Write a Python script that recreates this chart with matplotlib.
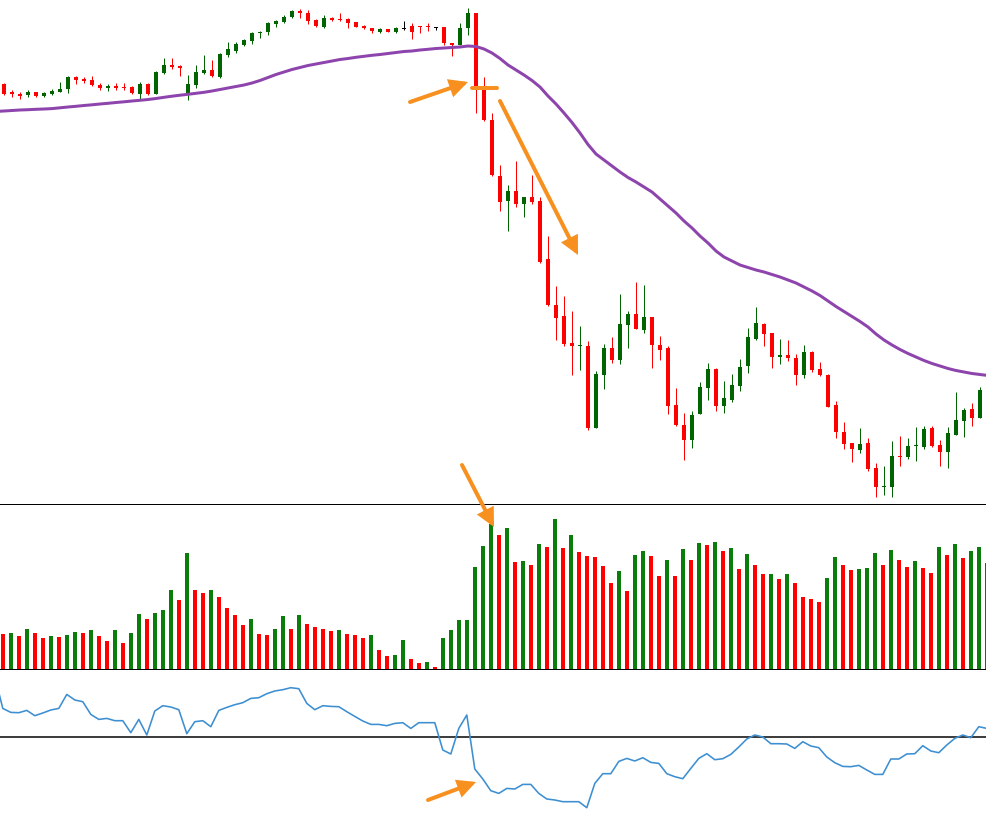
import matplotlib
matplotlib.use("Agg")
import matplotlib.pyplot as plt
import numpy as np

# ---------------- data ----------------
open_ = [416, 408, 406, 405, 408, 404, 406, 408, 411, 423,
         421, 420, 415, 412, 414, 413, 413, 406, 416, 406,
         427, 435, 434, 406, 415, 427, 430, 423, 445, 449,
         455, 459, 467, 468, 476, 478, 483, 489, 487, 480,
         473, 482, 481, 481, 478, 474, 472, 468, 471, 468,
         471.5, 474, 474, 474, 472.5, 473, 457, 455, 472, 487,
         412, 380, 324, 299, 309, 296, 303, 299, 241, 195,
         184, 157, 154, 154, 72, 125, 152, 140, 175, 186,
         170, 183, 155, 152, 95, 75, 60, 86, 112, 131,
         94, 100, 114, 134, 161, 176, 167, 143, 145, 142,
         125, 148, 131, 125, 95, 68, 57, 50, 57, 32,
         13, 13, 44, 43, 54, 53, 72, 55, 48, 65,
         79, 91, 82, 110]
high = [417, 410, 408, 410, 408, 408, 411, 418, 424, 424,
        423, 424, 417, 416, 417, 417, 414, 418, 417, 429,
        442, 442, 435, 425, 435, 445, 440, 447, 458, 458,
        461, 468, 469, 478, 480, 485, 490, 491, 490, 481,
        485, 483, 487, 482, 478, 475, 472, 472, 471, 473,
        479, 477, 474, 477, 473, 473, 457, 477, 492, 487,
        423, 387, 335, 315, 339, 303, 325, 303, 264, 214,
        204, 189, 174, 159, 129, 156, 163, 206, 189, 218,
        215, 183, 164, 154, 112, 87, 89, 118, 137, 132,
        119, 126, 141, 172, 193, 177, 167, 161, 160, 146,
        155, 149, 138, 126, 99, 78, 57, 72, 62, 37,
        34, 59, 64, 62, 73, 74, 74, 60, 73, 108,
        92, 97, 113, 113]
low = [405, 403, 401, 403, 403, 403, 405, 408, 407, 416,
       417, 414, 410, 409, 410, 410, 406, 401, 405, 406,
       426, 431, 424, 400, 412, 426, 423, 422, 443, 447,
       454, 456, 462, 465, 473, 477, 482, 482, 476, 473,
       472, 479, 479, 472, 473, 471, 467, 467, 468, 467,
       470, 461, 467, 469, 470, 455, 444, 455, 465, 387,
       379, 324, 289, 269, 293, 283, 296, 237, 194, 160,
       154, 125, 130, 70, 72, 111, 137, 136, 152, 171,
       167, 132, 140, 86, 74, 40, 52, 86, 100, 89,
       87, 98, 109, 127, 160, 154, 132, 136, 139, 115,
       122, 128, 124, 93, 62, 51, 38, 47, 29, 3,
       5, 3, 34, 41, 39, 51, 53, 34, 32, 65,
       63, 74, 82, 102]
close = [406, 406, 404, 408, 404, 407, 409, 411, 423, 420,
         419, 415, 412, 414, 412, 412, 407, 416, 406, 428,
         435, 433, 432, 416, 428, 430, 424, 446, 451, 456,
         460, 467, 468, 477, 479, 483, 489, 487, 479, 474,
         482, 480, 480, 477, 473, 472, 469, 471, 468, 472,
         471.5, 468, 473, 473, 472.5, 457, 455, 472, 487, 413,
         380, 325, 298, 309, 296, 303, 298, 238, 195, 182,
         156, 154, 155, 72, 126, 152, 140, 176, 186, 171,
         183, 155, 150, 94, 75, 60, 85, 113, 131, 94,
         102, 115, 133, 163, 177, 166, 143, 145, 142, 125,
         148, 130, 125, 93, 68, 56, 51, 56, 31, 13,
         14, 44, 43, 54, 55, 71, 54, 48, 67, 80,
         90, 82, 110, 105]
# moving average: first value belongs to the bar just before the visible range
moving_avg = [388.6,
              389, 389.5, 390, 390.3, 390.7, 391, 391.4, 392.2, 393, 393.7,
              394.5, 395.2, 396, 396.7, 397.5, 398.2, 399, 399.7, 400.5, 401.5,
              402.7, 403.8, 404.8, 405.7, 406.7, 407.7, 409, 410.5, 412, 413.5,
              415, 417, 419.5, 422.5, 425.5, 428, 430.5, 432.5, 434.5, 436,
              437.5, 439, 440.5, 441.5, 442.7, 443.7, 444.7, 445.5, 446.5, 447.5,
              448.5, 449, 450, 450.7, 451.5, 452, 452.5, 453, 454, 453.5,
              451, 447, 441.5, 435, 430, 425, 419.5, 413, 404, 396,
              387, 377.5, 367, 355.5, 346, 340, 334, 328, 322.5, 318,
              313, 308, 301, 294, 287, 279, 272, 264, 257, 249,
              243, 239, 235, 232.5, 230, 228, 225.5, 223, 220, 217,
              213, 209, 204.5, 199, 193.5, 188.5, 183.5, 178.5, 173, 166,
              160, 155, 150.5, 146.5, 143, 139.5, 136.5, 134, 131.5, 129.5,
              128, 126.5, 125.5, 124.5]
volume = [35, 36, 33, 40, 36, 31, 33, 32.5, 34, 37,
          36, 39, 33, 28, 39, 26, 36, 55, 50, 56,
          59, 79, 69, 116, 79, 76, 79, 72, 61, 54,
          44, 50, 35, 34, 40, 53, 40, 54, 45, 42,
          40, 38, 39, 35, 34.5, 31, 34, 19, 13, 14,
          29, 10, 6, 7, 2, 31, 39, 49, 49.5, 102,
          123, 145, 134, 141, 107, 108, 104, 125, 122, 150,
          121, 134, 117, 113, 112.5, 103, 86, 98, 78, 114,
          118, 113, 93, 109, 93, 120, 109, 126, 124, 127,
          118, 121, 100, 115, 104, 95, 95.5, 90, 95, 86,
          72, 70, 67, 91, 112, 104, 99, 100, 101, 116,
          104, 119, 109, 102, 108, 101, 96, 122, 114, 125,
          111, 118, 122, 106]
# oscillator: first value belongs to the bar just before the visible range
oscillator = [60,
              28.3, 24.3, 24, 26.3, 21, 23.7, 26.7, 28.3, 42.3, 36.7,
              35, 22.3, 17.3, 18.3, 16, 16, 4, 17.3, 1.7, 25.7,
              31, 29.7, 27, 3, 15, 16, 10, 26.3, 29.3, 32,
              34, 38.3, 39, 43, 45.7, 47, 49, 48, 33.3, 27,
              31, 30.3, 30, 25, 20.3, 15.7, 12.3, 12.3, 11, 13.3,
              14, 8.3, 14, 14, 14, -13.3, -17.3, 8.3, 21.7, -32.3,
              -42.3, -54, -56.7, -51.7, -52.3, -47.7, -47.7, -56.7, -62.3, -63.3,
              -65, -65, -65, -71, -46.7, -37, -37, -24.7, -21.7, -24.3,
              -21, -25.7, -26.7, -37, -40, -42, -31.7, -21.7, -17, -23,
              -22, -17.7, -10.3, -2.3, 1.7, -0.3, -7, -7, -7.3, -11.7,
              -5, -9.3, -11, -20.3, -26, -29.7, -30, -28.7, -33.3, -37.7,
              -37.7, -22.3, -22.3, -17.3, -17, -9, -14.3, -16, -8.3, -1.7,
              1.7, -1, 10, 8.3]

# ---------------- style ----------------
W, H = 987, 819
UP = "#006400"
DOWN = "#ff0000"
DOJI = "#000000"
VUP = "#0a7d0a"
MA_C = "#8e44ad"
OSC_C = "#3d8fd1"
ORANGE = "#f7901e"
PX = 72 / 100  # one pixel in points

fig = plt.figure(figsize=(W / 100, H / 100), dpi=100)
fig.patch.set_facecolor("white")

def clean(ax):
    ax.set_xticks([])
    ax.set_yticks([])
    for s in ax.spines.values():
        s.set_visible(False)
    ax.patch.set_alpha(0)

# ---- price panel ----
o = np.array(open_, float); h = np.array(high, float)
l = np.array(low, float); c = np.array(close, float)
x = np.arange(len(o))
cols = [UP if cc > oo else (DOWN if cc < oo else DOJI) for oo, cc in zip(o, c)]

ax = fig.add_axes([0, (H - 504) / H, 1, 504 / H])
clean(ax)
ax.spines["bottom"].set_visible(True)
ax.spines["bottom"].set_linewidth(1.0 * PX)
ax.spines["bottom"].set_color("black")
ax.set_xlim(-0.5, (W - 4) / 8)
ax.set_ylim(-4, 500)
ax.vlines(x, l, h, colors=cols, lw=1.0 * PX, zorder=2)
bottoms = np.minimum(o, c)
heights = np.maximum(np.abs(c - o), 1.0)
ax.bar(x, heights, bottom=bottoms, width=0.6, color=cols, linewidth=0, zorder=3)
ax.plot(np.arange(-1, len(moving_avg) - 1), moving_avg, color=MA_C,
        lw=3 * PX, zorder=4, solid_capstyle="butt")

# ---- volume panel ----
v = np.array(volume, float)
vcols = [DOWN] + [VUP if v[i] > v[i - 1] else DOWN for i in range(1, len(v))]
vax = fig.add_axes([0, (H - 669) / H, 1, 165 / H])
clean(vax)
vax.spines["bottom"].set_visible(True)
vax.spines["bottom"].set_linewidth(1.0 * PX)
vax.spines["bottom"].set_color("black")
vax.set_xlim(-0.35, (W - 2.8) / 8)
vax.set_ylim(0, 165)
vax.bar(np.arange(len(v)), v, width=0.5, color=vcols, linewidth=0)

# ---- oscillator panel ----
oax = fig.add_axes([0, 0, 1, 150 / H])
clean(oax)
oax.set_xlim(-0.35, (W - 2.8) / 8)
oax.set_ylim(-82.3, 67.7)
oax.axhline(0, color="black", lw=1.5 * PX, zorder=1)
oax.plot(np.arange(-1, len(oscillator) - 1), oscillator, color=OSC_C,
         lw=1.6 * PX, zorder=2)

# ---- orange annotation arrows (figure pixel overlay) ----
ov = fig.add_axes([0, 0, 1, 1])
ov.set_xlim(0, W)
ov.set_ylim(H, 0)
ov.axis("off")
ov.patch.set_alpha(0)

def arrow(tail, tip):
    ov.annotate("", xy=tip, xytext=tail,
                arrowprops=dict(arrowstyle="-|>,head_length=0.9,head_width=0.45",
                                color=ORANGE, lw=4 * PX, shrinkA=0, shrinkB=0,
                                capstyle="round", joinstyle="miter"))

arrow((410, 102), (468, 82))
arrow((500, 101), (578, 255))
arrow((462, 465), (494, 527))
arrow((428, 800), (476, 782))
ov.plot([472, 497], [88, 88], color=ORANGE, lw=4 * PX, solid_capstyle="round")

fig.savefig("out.png", dpi=100, facecolor="white")
